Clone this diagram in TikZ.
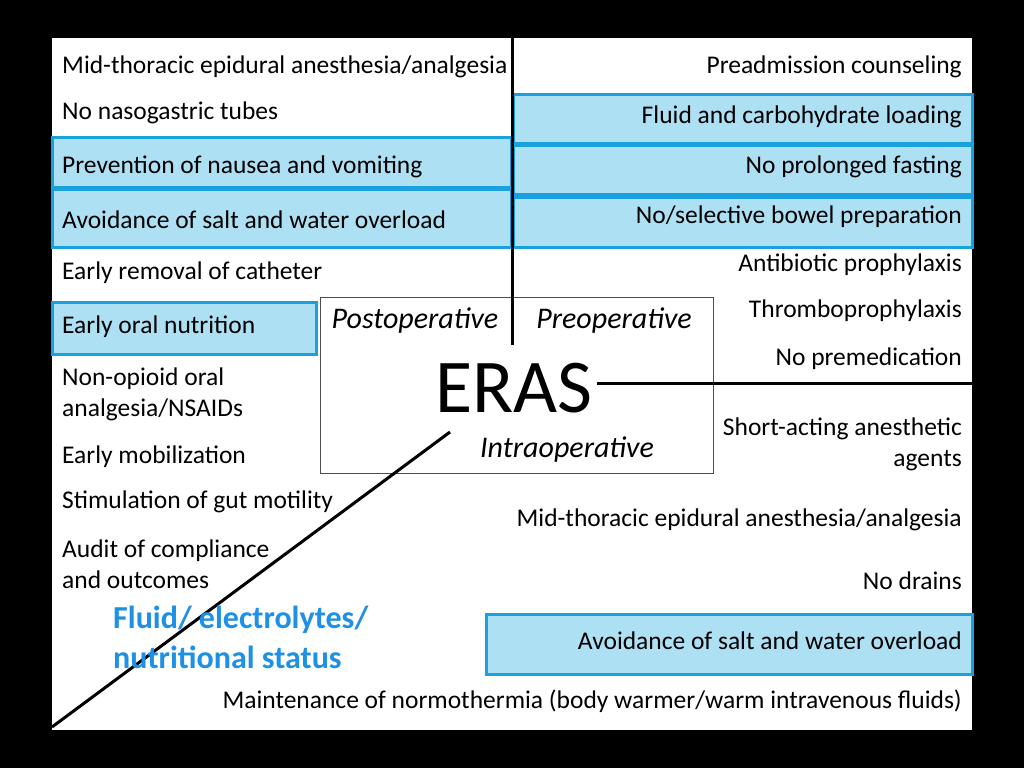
\documentclass[tikz,border=0pt]{standalone}
\usepackage{fontspec}
\setmainfont{Carlito}
\usetikzlibrary{positioning}
\definecolor{boxfill}{RGB}{174,224,244}
\definecolor{boxline}{RGB}{27,160,222}
\definecolor{labelblue}{RGB}{30,144,230}
\tikzstyle{hilite} = [draw=boxline, line width=3pt, fill=boxfill]
\tikzstyle{lefttext} = [anchor=west, align=left, font=\fontsize{25.5}{31}\selectfont, inner sep=0pt]
\tikzstyle{righttext} = [anchor=east, align=right, font=\fontsize{25.5}{31}\selectfont, inner sep=0pt]
\tikzstyle{phase} = [font=\fontsize{30}{34}\selectfont\itshape, inner sep=0pt]
\begin{document}
\begin{tikzpicture}[x=1pt, y=-1pt]

% Background and panel
\fill[black] (0,0) rectangle (1024,768);
\fill[white] (52,38) rectangle (972,730);

% Highlight boxes
\draw[hilite] (52,137) rectangle (511,187);
\draw[hilite] (52,189) rectangle (511,247);
\draw[hilite] (52,302) rectangle (316,354);
\draw[hilite] (513,94) rectangle (972,143);
\draw[hilite] (513,145) rectangle (972,194);
\draw[hilite] (513,197) rectangle (972,247);
\draw[hilite] (486,614) rectangle (972,674);

% Centre box
\node[draw=black!70, line width=1pt, minimum width=393pt, minimum height=176pt, inner sep=0pt] (center) at (516.5,385) {};
\node[phase] (post) at (415,321) {Postoperative};
\node[phase] (pre) at (614,321) {Preoperative};
\node[font=\fontsize{76}{80}\selectfont, inner sep=0pt] (eras) at (514,388) {ERAS};
\node[phase] (intra) at (567,450) {Intraoperative};

% Axes
\coordinate (top) at (512,38);
\coordinate (divide) at (512,345);
\coordinate (linestart) at (597,383);
\coordinate (rightend) at (972,383);
\coordinate (diagend) at (52,727);
\coordinate (diagstart) at (450,432);
\draw[line width=3pt] (top) -- (divide);
\draw[line width=3pt] (linestart) -- (rightend);
\draw[line width=3pt] (diagstart) -- (diagend);

% Postoperative items
\node[lefttext] (p1) at (62,67) {Mid-thoracic epidural anesthesia/analgesia};
\node[lefttext] (p2) at (62,113) {No nasogastric tubes};
\node[lefttext] (p3) at (62,167) {Prevention of nausea and vomiting};
\node[lefttext] (p4) at (62,220) {Avoidance of salt and water overload};
\node[lefttext] (p5) at (62,273) {Early removal of catheter};
\node[lefttext] (p6) at (62,327) {Early oral nutrition};
\node[lefttext] (p7) at (62,394) {Non-opioid oral\\analgesia/NSAIDs};
\node[lefttext] (p8) at (62,457) {Early mobilization};
\node[lefttext] (p9) at (62,502) {Stimulation of gut motility};
\node[lefttext] (p10) at (62,564) {Audit of compliance\\and outcomes};

% Preoperative items
\node[righttext] (r1) at (962,67) {Preadmission counseling};
\node[righttext] (r2) at (962,117) {Fluid and carbohydrate loading};
\node[righttext] (r3) at (962,167) {No prolonged fasting};
\node[righttext] (r4) at (962,217) {No/selective bowel preparation};
\node[righttext] (r5) at (962,265) {Antibiotic prophylaxis};
\node[righttext] (r6) at (962,311) {Thromboprophylaxis};
\node[righttext] (r7) at (962,359) {No premedication};

% Intraoperative items
\node[righttext] (i1) at (962,444) {Short-acting anesthetic\\agents};
\node[righttext] (i2) at (962,520) {Mid-thoracic epidural anesthesia/analgesia};
\node[righttext] (i3) at (962,581) {No drains};
\node[righttext] (i4) at (962,641) {Avoidance of salt and water overload};
\node[righttext] (i5) at (962,701) {Maintenance of normothermia (body warmer/warm intravenous fluids)};

% Highlight label
\node[lefttext, font=\fontsize{32}{40}\selectfont\bfseries, text=labelblue] (fluid) at (113,637) {Fluid/ electrolytes/\\nutritional status};

\end{tikzpicture}
\end{document}
